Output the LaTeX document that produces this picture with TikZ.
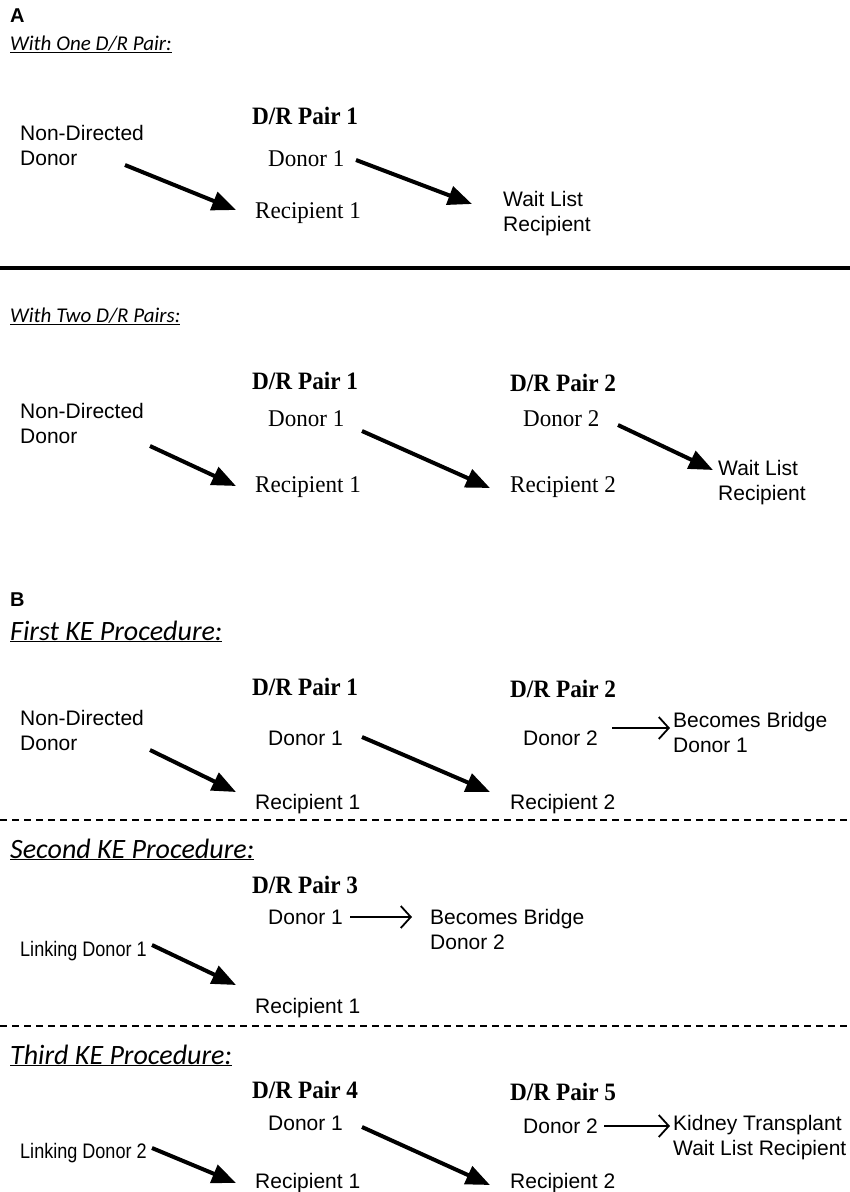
\documentclass[tikz,border=0pt]{standalone}
\usepackage{fontspec}
\usetikzlibrary{arrows.meta}
\setmainfont{Liberation Serif}
\setsansfont{Liberation Sans}
\newfontfamily\calfont{Carlito}
\newfontfamily\tmsfont[FakeStretch=0.96]{Liberation Serif}
\newfontfamily\pairfont[FakeStretch=0.93]{Liberation Serif}
\newfontfamily\hvfont{Liberation Sans}
\newfontfamily\hvnarrow[FakeStretch=0.86]{Liberation Sans}
\begin{document}
\begin{tikzpicture}[x=1pt,y=-1pt,
  lbl/.style={anchor=base west,inner sep=0pt,font=\hvfont\fontsize{21}{25}\selectfont,align=left},
  narrowlbl/.style={anchor=base west,inner sep=0pt,font=\hvnarrow\fontsize{21}{25}\selectfont},
  tms/.style={anchor=base west,inner sep=0pt,font=\tmsfont\fontsize{24}{28}\selectfont},
  pair/.style={anchor=base west,inner sep=0pt,font=\pairfont\bfseries\fontsize{25}{29}\selectfont},
  panel/.style={anchor=base west,inner sep=0pt,font=\hvfont\bfseries\fontsize{20}{24}\selectfont},
  headA/.style={anchor=base west,inner sep=0pt,font=\calfont\itshape\fontsize{21}{25}\selectfont},
  headB/.style={anchor=base west,inner sep=0pt,font=\calfont\itshape\fontsize{28}{32}\selectfont},
  bigarrow/.style={line width=4pt,-{Triangle[length=24pt,width=19pt]}},
  thinarrow/.style={line width=1.8pt,-{Straight Barb[length=10pt,width=22pt,line width=1.8pt]}},
  sepdash/.style={line width=1.2pt,dash pattern=on 7pt off 5pt}
]
\useasboundingbox (0,0) rectangle (850,1192);
\fill[white] (0,0) rectangle (850,1192);

% ---------- Panel A, one pair
\node[panel] (A) at (10,22) {A};
\node[headA] (h1) at (10,50) {\underline{With One D/R Pair:}};
\node[pair] (p11) at (252,124) {D/R Pair 1};
\node[lbl] (nd1) at (20,165) {Non-Directed\\Donor};
\node[tms] (d11) at (268,166) {Donor 1};
\node[tms] (r11) at (255,218) {Recipient 1};
\node[lbl] (w1) at (503,231) {Wait List\\Recipient};
\coordinate (a1s) at (125,165); \coordinate (a1e) at (236,210);
\coordinate (a2s) at (356,160); \coordinate (a2e) at (472,204);
\draw[bigarrow] (a1s) -- (a1e);
\draw[bigarrow] (a2s) -- (a2e);
\coordinate (sepL) at (0,268); \coordinate (sepR) at (850,268);
\draw[line width=4pt] (sepL) -- (sepR);

% ---------- Panel A, two pairs
\node[headA] (h2) at (10,322) {\underline{With Two D/R Pairs:}};
\node[pair] (p21) at (252,389) {D/R Pair 1};
\node[pair] (p22) at (510,391) {D/R Pair 2};
\node[lbl] (nd2) at (20,443) {Non-Directed\\Donor};
\node[tms] (d21) at (268,426) {Donor 1};
\node[tms] (d22) at (523,426) {Donor 2};
\node[tms] (r21) at (255,492) {Recipient 1};
\node[tms] (r22) at (510,492) {Recipient 2};
\node[lbl] (w2) at (718,500) {Wait List\\Recipient};
\coordinate (b1s) at (150,446); \coordinate (b1e) at (236,486);
\coordinate (b2s) at (362,431); \coordinate (b2e) at (490,488);
\coordinate (b3s) at (618,425); \coordinate (b3e) at (713,470);
\draw[bigarrow] (b1s) -- (b1e);
\draw[bigarrow] (b2s) -- (b2e);
\draw[bigarrow] (b3s) -- (b3e);

% ---------- Panel B, first procedure
\node[panel] (B) at (10,606) {B};
\node[headB] (h3) at (10,640) {\underline{First KE Procedure:}};
\node[pair] (p31) at (252,695) {D/R Pair 1};
\node[pair] (p32) at (510,697) {D/R Pair 2};
\node[lbl] (nd3) at (20,750) {Non-Directed\\Donor};
\node[lbl] (d31) at (268,745) {Donor 1};
\node[lbl] (d32) at (523,745) {Donor 2};
\node[lbl] (bb1) at (673,752) {Becomes Bridge\\Donor 1};
\node[lbl] (r31) at (255,809) {Recipient 1};
\node[lbl] (r32) at (510,809) {Recipient 2};
\coordinate (c1s) at (150,750); \coordinate (c1e) at (236,792);
\coordinate (c2s) at (362,737); \coordinate (c2e) at (490,792);
\coordinate (c3s) at (612,728); \coordinate (c3e) at (670,728);
\draw[bigarrow] (c1s) -- (c1e);
\draw[bigarrow] (c2s) -- (c2e);
\draw[thinarrow] (c3s) -- (c3e);
\coordinate (dl1L) at (0,820); \coordinate (dl1R) at (850,820);
\draw[sepdash] (dl1L) -- (dl1R);

% ---------- second procedure
\node[headB] (h4) at (10,858) {\underline{Second KE Procedure:}};
\node[pair] (p41) at (252,893) {D/R Pair 3};
\node[lbl] (d41) at (268,924) {Donor 1};
\node[lbl] (bb2) at (430,949) {Becomes Bridge\\Donor 2};
\node[narrowlbl] (ld1) at (20,956) {Linking Donor 1};
\node[lbl] (r41) at (255,1013) {Recipient 1};
\coordinate (e1s) at (152,945); \coordinate (e1e) at (236,985);
\coordinate (e2s) at (350,917); \coordinate (e2e) at (412,917);
\draw[bigarrow] (e1s) -- (e1e);
\draw[thinarrow] (e2s) -- (e2e);
\coordinate (dl2L) at (0,1026); \coordinate (dl2R) at (850,1026);
\draw[sepdash] (dl2L) -- (dl2R);

% ---------- third procedure
\node[headB] (h5) at (10,1064) {\underline{Third KE Procedure:}};
\node[pair] (p51) at (252,1098) {D/R Pair 4};
\node[pair] (p52) at (510,1100) {D/R Pair 5};
\node[lbl] (d51) at (268,1130) {Donor 1};
\node[lbl] (d52) at (523,1133) {Donor 2};
\node[lbl] (kt) at (673,1155) {Kidney Transplant\\Wait List Recipient};
\node[narrowlbl] (ld2) at (20,1158) {Linking Donor 2};
\node[lbl] (r51) at (255,1188) {Recipient 1};
\node[lbl] (r52) at (510,1188) {Recipient 2};
\coordinate (f1s) at (152,1148); \coordinate (f1e) at (236,1183);
\coordinate (f2s) at (362,1127); \coordinate (f2e) at (490,1185);
\coordinate (f3s) at (604,1126); \coordinate (f3e) at (670,1126);
\draw[bigarrow] (f1s) -- (f1e);
\draw[bigarrow] (f2s) -- (f2e);
\draw[thinarrow] (f3s) -- (f3e);
\end{tikzpicture}
\end{document}
